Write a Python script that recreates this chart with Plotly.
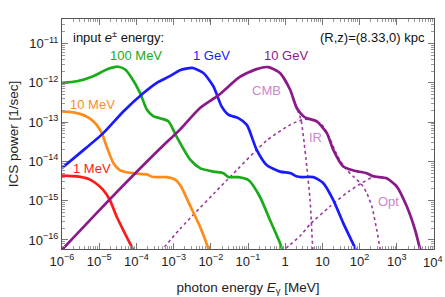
import plotly.graph_objects as go

# ---- data (photon energy in MeV, ICS power in 1/sec) ----
E_1MeV = [10**v for v in [-6.0, -5.6, -5.3, -5.1, -4.9, -4.72, -4.53, -4.31, -4.08, -4.04]]
P_1MeV = [10**v for v in [-14.36, -14.38, -14.44, -14.55, -14.72, -14.97, -15.41, -15.83, -16.26, -16.35]]

E_10MeV = [10**v for v in [-6.0, -5.8, -5.52, -5.3, -5.16, -5.03, -4.93, -4.8, -4.62, -4.45, -4.3, -4.1,
                           -3.9, -3.72, -3.58, -3.45, -3.19, -2.95, -2.8, -2.56, -2.29, -2.07, -2.03]]
P_10MeV = [10**v for v in [-12.73, -12.74, -12.79, -12.88, -12.98, -13.12, -13.28, -13.62, -14.04, -14.22, -14.27, -14.30,
                           -14.32, -14.33, -14.39, -14.40, -14.40, -14.47, -14.64, -15.12, -15.66, -16.21, -16.35]]

E_100MeV = [10**v for v in [-6.0, -5.6, -5.16, -4.8, -4.49, -4.3, -4.13, -3.9, -3.72, -3.55, -3.37, -3.14,
                            -2.92, -2.56, -2.29, -1.93, -1.66, -1.53, -1.26, -0.98, -0.68, -0.41, -0.14, -0.05]]
P_100MeV = [10**v for v in [-12.0, -11.96, -11.83, -11.66, -11.59, -11.66, -11.87, -12.26, -12.68, -12.85, -12.90, -12.98,
                            -13.37, -13.95, -14.17, -14.26, -14.30, -14.40, -14.40, -14.48, -14.90, -15.49, -16.08, -16.35]]

E_1GeV = [10**v for v in [-6.0, -5.52, -4.89, -4.35, -3.81, -3.45, -3.10, -2.83, -2.5, -2.2, -1.93, -1.71, -1.53,
                          -1.26, -1.03, -0.77, -0.5, -0.14, 0.15, 0.3, 0.45, 0.76, 1.02, 1.29, 1.56, 1.88, 1.93]]
P_1GeV = [10**v for v in [-14.17, -13.79, -13.28, -12.73, -12.26, -12.0, -11.83, -11.68, -11.62, -11.75, -12.09, -12.60, -12.81,
                          -12.90, -13.07, -13.70, -14.09, -14.26, -14.30, -14.38, -14.40, -14.40, -14.55, -14.98, -15.57, -16.21, -16.35]]

E_10GeV = [10**v for v in [-6.1, -4.71, -3.37, -2.83, -2.29, -1.8, -1.22, -0.77, -0.45, -0.14, 0.13, 0.31, 0.49,
                           0.58, 0.85, 1.12, 1.29, 1.56, 1.83, 2.19, 2.37, 2.73, 3.0, 3.27, 3.49, 3.62, 3.66]]
P_10GeV = [10**v for v in [-16.35, -14.96, -13.68, -13.19, -12.64, -12.32, -11.85, -11.65, -11.60, -11.75, -12.17, -12.64, -12.85,
                           -12.90, -12.98, -13.28, -13.70, -14.13, -14.23, -14.30, -14.38, -14.43, -14.64, -15.15, -15.74, -16.21, -16.35]]

# components of the 10 GeV spectrum
E_CMB = [10**v for v in [-0.45, -0.14, 0.13, 0.31, 0.42, 0.49, 0.58, 0.67, 0.74, 0.76]]
P_CMB = [10**v for v in [-11.60, -11.75, -12.17, -12.64, -12.92, -13.37, -14.13, -15.0, -16.21, -16.4]]

E_IR = [10**v for v in [-3.35, -2.83, -1.57, -0.5, 0.13, 0.49, 0.75, 1.0, 1.2, 1.4, 1.61, 1.85, 2.05, 2.19, 2.33, 2.46, 2.55, 2.58]]
P_IR = [10**v for v in [-16.3, -15.72, -14.48, -13.47, -13.07, -12.93, -12.95, -13.08, -13.42, -13.85, -14.17, -14.40, -14.58, -14.80, -15.15, -15.74, -16.21, -16.4]]

E_Opt = [10**v for v in [-0.1, 0.13, 0.40, 0.67, 1.20, 1.70, 2.06, 2.37, 2.73, 3.0, 3.27, 3.49, 3.62, 3.66]]
P_Opt = [10**v for v in [-16.32, -16.12, -15.9, -15.6, -15.15, -14.77, -14.55, -14.40, -14.44, -14.64, -15.15, -15.74, -16.21, -16.35]]

x_tickvals = [10**k for k in range(-6, 5)]
x_ticktext = ["10<sup>−6</sup>", "10<sup>−5</sup>", "10<sup>−4</sup>", "10<sup>−3</sup>", "10<sup>−2</sup>",
              "10<sup>−1</sup>", "1", "10", "10<sup>2</sup>", "10<sup>3</sup>", "10<sup>4</sup>"]
y_tickvals = [10**k for k in range(-16, -10)]
y_ticktext = ["10<sup>−16</sup>", "10<sup>−15</sup>", "10<sup>−14</sup>", "10<sup>−13</sup>",
              "10<sup>−12</sup>", "10<sup>−11</sup>"]

x_minor = [m * 10**k for k in range(-6, 4) for m in range(2, 10)]
y_minor = [m * 10**k for k in range(-17, -10) for m in range(2, 10)]

RED, ORANGE, GREEN, BLUE, PURPLE = "#ff1a1a", "#ff8c1a", "#1aaa1a", "#1a1aff", "#8a1a8a"
DOT = "#9a3aa0"
LABEL_COMP = "#cc88cc"

W, H = 445, 297
L, R, T, B = 62, 11, 19, 48   # plot area: x 62..434, y 19..249
PW, PH = W - L - R, H - T - B

fig = go.Figure()

def dotted(x, y):
    fig.add_trace(go.Scatter(x=x, y=y, mode="lines", line=dict(color=DOT, width=1.6, dash="dot",
                                                               shape="spline", smoothing=0.6),
                             hoverinfo="skip"))

dotted(E_CMB, P_CMB)
dotted(E_IR, P_IR)
dotted(E_Opt, P_Opt)

for x, y, c in [(E_1MeV, P_1MeV, RED), (E_10MeV, P_10MeV, ORANGE), (E_100MeV, P_100MeV, GREEN),
                (E_1GeV, P_1GeV, BLUE), (E_10GeV, P_10GeV, PURPLE)]:
    fig.add_trace(go.Scatter(x=x, y=y, mode="lines",
                             line=dict(color=c, width=2.7, shape="spline", smoothing=0.6)))

def px2paper(px, py):
    return (px - L) / PW, (H - B - py) / PH

def label(text, px, py, color, anchor="left", size=13):
    xp, yp = px2paper(px, py)
    fig.add_annotation(x=xp, y=yp, xref="paper", yref="paper", text=text, showarrow=False,
                       xanchor=anchor, yanchor="middle", font=dict(color=color, size=size))

label("input <i>e</i><sup>±</sup> energy:", 71, 37, "#111")
label("(R,z)=(8.33,0) kpc", 427, 37, "#111", anchor="right")
label("100 MeV", 108, 56, GREEN)
label("10 MeV", 68, 104, ORANGE)
label("1 MeV", 71, 168, RED)
label("1 GeV", 191, 56, BLUE)
label("10 GeV", 262, 56, PURPLE)
label("CMB", 250, 90, LABEL_COMP)
label("IR", 307, 137, LABEL_COMP)
label("Opt", 376, 201, LABEL_COMP)

# the last x tick label sits at the page edge: draw it right-aligned so it is not clipped
shown_xtext = x_ticktext[:-1] + [""]
_, y_last = px2paper(0, 262)
fig.add_annotation(x=1.0, y=y_last, xref="paper", yref="paper", text=x_ticktext[-1], showarrow=False,
                   xanchor="right", yanchor="middle", xshift=10, borderpad=0,
                   font=dict(color="#222", size=13))

axis_common = dict(type="log", showgrid=False, zeroline=False, showline=True, linecolor="#555", linewidth=1,
                   mirror="allticks", ticks="inside", ticklen=6, tickcolor="#777", tickwidth=1,
                   automargin=False, tickfont=dict(size=13, color="#222"))

fig.update_xaxes(range=[-6, 4], tickmode="array", tickvals=x_tickvals, ticktext=shown_xtext,
                 minor=dict(ticks="inside", ticklen=3, tickcolor="#999", tickvals=x_minor, showgrid=False),
                 title=dict(text="photon energy <i>E</i><sub>γ</sub> [MeV]", font=dict(size=13.5, color="#222"),
                            standoff=14),
                 **axis_common)
fig.update_yaxes(range=[-16.23, -10.375], tickmode="array", tickvals=y_tickvals, ticktext=y_ticktext,
                 minor=dict(ticks="inside", ticklen=3, tickcolor="#999", tickvals=y_minor, showgrid=False),
                 title=dict(text="ICS power [1/sec]", font=dict(size=13.5, color="#222"), standoff=6),
                 **axis_common)

fig.update_layout(width=W, height=H, autosize=False, margin=dict(l=L, r=R, t=T, b=B, pad=0),
                  plot_bgcolor="white", paper_bgcolor="white", showlegend=False,
                  font=dict(family="Liberation Sans, Arial, sans-serif", size=13, color="#222"))

# remove the page's default body margin so the 445x297 figure fills the window exactly
fig.write_html("out.html", config={"displayModeBar": False},
               post_script="document.body.style.margin='0px'; document.body.style.overflow='hidden';")
